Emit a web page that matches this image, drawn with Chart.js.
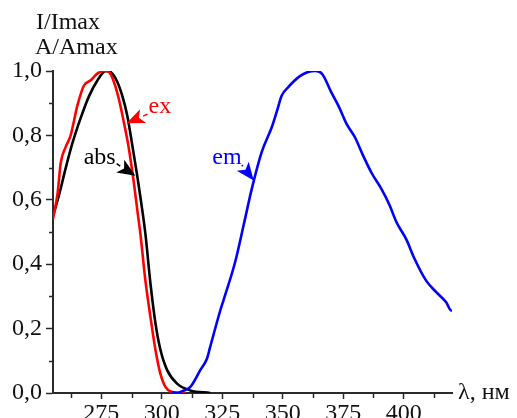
<!DOCTYPE html>
<html>
<head>
<meta charset="utf-8">
<script src="https://cdn.jsdelivr.net/npm/chart.js@4.4.1/dist/chart.umd.min.js"></script>
<style>
  html, body { margin: 0; padding: 0; background: #fff; overflow: hidden; }
</style>
</head>
<body>
<canvas id="chart" width="517" height="418"></canvas>
<script>
// absorption (black)
const absWl  = [255, 257.5, 260.3, 263, 266.5, 269.9, 273.3, 276.8, 278.8, 281.6, 283.6, 285.7, 287.8, 289.8, 291.5, 293.2, 295.3, 297.4, 299.4, 302.2, 306.3, 311.8, 320];
const absVal = [0.55, 0.615, 0.70, 0.775, 0.855, 0.922, 0.97, 1.0, 0.997, 0.966, 0.924, 0.862, 0.769, 0.676, 0.59, 0.495, 0.34, 0.215, 0.135, 0.071, 0.029, 0.008, 0.0];

// excitation (red)
const exWl  = [255, 256.9, 258.2, 260.3, 262.3, 265.1, 267.8, 270.6, 273.3, 276.1, 278.1, 280.2, 282.2, 284.3, 286.4, 288.4, 290, 291.2, 293.2, 295.3, 297.4, 299.4, 301.5, 304.2, 310];
const exVal = [0.54, 0.62, 0.715, 0.765, 0.80, 0.893, 0.955, 0.971, 0.992, 1.0, 0.997, 0.966, 0.914, 0.841, 0.758, 0.655, 0.56, 0.49, 0.35, 0.236, 0.133, 0.06, 0.019, 0.003, 0.0];

// emission (blue)
const emWl  = [304, 306.3, 308.5, 311.8, 315.9, 318.7, 320, 324.2, 325.5, 330.3, 333.8, 337.2, 341.3, 345.5, 347.5, 349.6, 352.3, 357.1, 360.5, 363.7, 366.4, 370, 373.3, 376.4, 379.8, 383.2, 386.7, 390.8, 394.2, 397, 401.1, 404.5, 409.3, 413.5, 417.6, 419.7, 420];
const emVal = [0.003, 0.0, 0.006, 0.019, 0.071, 0.107, 0.143, 0.257, 0.288, 0.406, 0.52, 0.634, 0.748, 0.826, 0.873, 0.924, 0.95, 0.984, 0.997, 1.0, 0.99, 0.935, 0.888, 0.836, 0.795, 0.738, 0.684, 0.634, 0.583, 0.531, 0.477, 0.417, 0.349, 0.313, 0.282, 0.256, 0.256];

const xTicks = [275, 300, 325, 350, 375, 400];
const xMinor = [262.5, 287.5, 312.5, 337.5, 362.5, 387.5, 412.5];
const yTicks = [0, 0.2, 0.4, 0.6, 0.8, 1.0];
const yMinor = [0.1, 0.3, 0.5, 0.7, 0.9];

const FONT = '"Liberation Serif", "Times New Roman", serif';
const AXIS = '#2a2a2a';

const pts = (xs, ys) => xs.map((x, i) => ({ x: x, y: ys[i] }));

const minorTicks = {
  id: 'minorTicks',
  afterDraw(chart) {
    const { ctx, scales: { x, y } } = chart;
    ctx.save();
    ctx.strokeStyle = AXIS;
    ctx.lineWidth = 1.5;
    xMinor.forEach(v => {
      const px = Math.round(x.getPixelForValue(v)) + 0.5;
      ctx.beginPath(); ctx.moveTo(px, y.bottom); ctx.lineTo(px, y.bottom + 5); ctx.stroke();
    });
    yMinor.forEach(v => {
      const py = Math.round(y.getPixelForValue(v)) + 0.5;
      ctx.beginPath(); ctx.moveTo(x.left, py); ctx.lineTo(x.left - 4, py); ctx.stroke();
    });
    ctx.restore();
  }
};

// arrows with curve names, placed in data units
const notes = [
  { text: 'ex',  color: '#ff0000', at: [294.5, 0.869], tail: [294.1, 0.866], tip: [285.4, 0.838] },
  { text: 'abs', color: '#000000', at: [267.7, 0.711], tail: [281.3, 0.712], tip: [289.1, 0.675] },
  { text: 'em',  color: '#0000ff', at: [320.9, 0.711], tail: [333.1, 0.708], tip: [338.0, 0.660] }
];

const labels = {
  id: 'labels',
  afterDraw(chart) {
    const { ctx, scales: { x, y } } = chart;
    ctx.save();
    ctx.font = '24px ' + FONT;
    ctx.textBaseline = 'alphabetic';
    ctx.textAlign = 'left';
    ctx.fillStyle = '#111';
    ctx.fillText('I/Imax', 36, 29);
    ctx.fillText('A/Amax', 35, 54);
    ctx.fillText('λ, нм', 458, 399);

    notes.forEach(n => {
      ctx.fillStyle = n.color;
      ctx.strokeStyle = n.color;
      ctx.fillText(n.text, x.getPixelForValue(n.at[0]), y.getPixelForValue(n.at[1]));
      const tx = x.getPixelForValue(n.tail[0]), ty = y.getPixelForValue(n.tail[1]);
      const hx = x.getPixelForValue(n.tip[0]), hy = y.getPixelForValue(n.tip[1]);
      const ang = Math.atan2(hy - ty, hx - tx);
      const len = 18, half = 7.5;
      const bx = hx - len * Math.cos(ang), by = hy - len * Math.sin(ang);
      ctx.lineWidth = 1.5;
      ctx.beginPath(); ctx.moveTo(tx, ty); ctx.lineTo(bx, by); ctx.stroke();
      ctx.beginPath();
      ctx.moveTo(hx, hy);
      ctx.lineTo(bx - half * Math.sin(ang), by + half * Math.cos(ang));
      ctx.lineTo(hx - 0.75 * len * Math.cos(ang), hy - 0.75 * len * Math.sin(ang));
      ctx.lineTo(bx + half * Math.sin(ang), by - half * Math.cos(ang));
      ctx.closePath();
      ctx.fill();
    });
    ctx.restore();
  }
};

const ctx = document.getElementById('chart').getContext('2d');
new Chart(ctx, {
  type: 'line',
  data: {
    datasets: [
      { label: 'em', data: pts(emWl, emVal), borderColor: '#0000ff' },
      { label: 'ex', data: pts(exWl, exVal), borderColor: '#ff0000' },
      { label: 'abs', data: pts(absWl, absVal), borderColor: '#000000' }
    ]
  },
  options: {
    responsive: false,
    animation: false,
    layout: { padding: { top: 71, right: 65, left: 0, bottom: 0 } },
    plugins: { legend: { display: false }, tooltip: { enabled: false } },
    elements: {
      point: { radius: 0 },
      line: { borderWidth: 2.6, fill: false, cubicInterpolationMode: 'monotone' }
    },
    scales: {
      x: {
        type: 'linear', min: 255, max: 420,
        afterBuildTicks: s => { s.ticks = xTicks.map(v => ({ value: v })); },
        afterFit: s => { s.height = 25; },
        grid: { drawOnChartArea: false, tickLength: 6, tickColor: AXIS, tickWidth: 1.5 },
        border: { color: AXIS, width: 2 },
        ticks: { font: { family: FONT, size: 24 }, color: '#111', padding: 0, maxRotation: 0, autoSkip: false,
                 callback: v => String(v) }
      },
      y: {
        min: 0, max: 1,
        afterBuildTicks: s => { s.ticks = yTicks.map(v => ({ value: v })); },
        afterFit: s => { s.width = 53; },
        grid: { drawOnChartArea: false, tickLength: 7, tickColor: AXIS, tickWidth: 1.5 },
        border: { color: AXIS, width: 2 },
        ticks: { font: { family: FONT, size: 24 }, color: '#111', padding: 4, autoSkip: false,
                 callback: v => v.toFixed(1).replace('.', ',') }
      }
    }
  },
  plugins: [minorTicks, labels]
});
</script>
</body>
</html>
